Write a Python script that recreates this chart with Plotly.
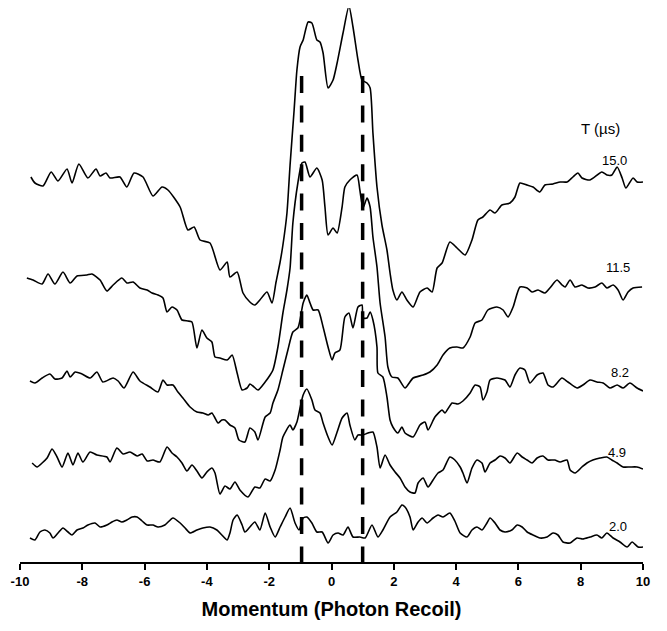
import plotly.graph_objects as go

# Momentum (photon recoil) vs. intensity (arbitrary units, curves offset vertically)
curve_15_0 = [
    (-9.65, 38.5), (-9.52, 37.9), (-9.26, 37.6), (-9.00, 39.0), (-8.78, 38.1), (-8.49, 39.3),
    (-8.33, 37.9), (-8.11, 39.8), (-7.82, 38.4), (-7.56, 39.3), (-7.43, 38.6), (-7.24, 38.9),
    (-7.11, 38.4), (-6.79, 38.5), (-6.57, 37.5), (-6.34, 38.9), (-6.05, 38.5), (-5.73, 36.6),
    (-5.44, 37.5), (-5.25, 37.2), (-4.86, 35.5), (-4.61, 33.2), (-4.41, 33.5), (-4.22, 32.2),
    (-3.90, 31.9), (-3.58, 29.2), (-3.35, 30.0), (-3.26, 28.5), (-3.03, 29.0), (-2.84, 26.9),
    (-2.62, 26.0), (-2.46, 25.7), (-2.30, 26.2), (-2.07, 27.0), (-1.91, 25.9), (-1.78, 28.0),
    (-1.65, 30.0), (-1.56, 31.7), (-1.43, 34.9), (-1.33, 39.7), (-1.20, 45.2), (-1.11, 49.2),
    (-1.01, 51.5), (-0.91, 52.2), (-0.75, 54.0), (-0.63, 53.9), (-0.47, 52.2), (-0.37, 52.0),
    (-0.27, 50.9), (-0.11, 47.4), (0.05, 48.2), (0.18, 49.9), (0.37, 52.9), (0.56, 55.6),
    (0.69, 53.5), (0.85, 50.2), (0.98, 48.2), (1.14, 47.9), (1.24, 47.4), (1.33, 42.9),
    (1.46, 37.5), (1.62, 33.7), (1.78, 31.2), (1.88, 28.9), (1.97, 27.2), (2.10, 26.2),
    (2.26, 27.0), (2.42, 26.2), (2.62, 25.5), (2.84, 27.0), (3.07, 27.4), (3.23, 27.0),
    (3.39, 29.4), (3.55, 29.9), (3.80, 32.0), (4.03, 31.4), (4.29, 30.7), (4.51, 32.2),
    (4.70, 34.2), (4.86, 34.5), (5.09, 35.2), (5.25, 34.9), (5.47, 35.7), (5.73, 35.9),
    (5.89, 36.5), (6.05, 37.9), (6.28, 37.7), (6.47, 37.5), (6.69, 37.0), (6.85, 37.7),
    (7.11, 37.8), (7.34, 38.0), (7.56, 38.0), (7.75, 38.5), (7.91, 38.9), (8.04, 38.4),
    (8.30, 38.2), (8.68, 39.0), (8.84, 38.7), (9.00, 38.7), (9.17, 39.5), (9.33, 38.4),
    (9.45, 37.4), (9.68, 38.4), (9.81, 38.0), (10.0, 38.0),
]

curve_11_5 = [
    (-9.78, 28.4), (-9.58, 28.2), (-9.29, 27.8), (-9.10, 28.8), (-8.88, 27.8), (-8.62, 29.0),
    (-8.39, 27.9), (-8.17, 28.6), (-7.85, 28.7), (-7.69, 28.8), (-7.43, 28.2), (-7.21, 27.1),
    (-7.01, 27.7), (-6.73, 28.4), (-6.57, 27.9), (-6.37, 28.0), (-6.15, 27.4), (-5.92, 27.2),
    (-5.76, 26.9), (-5.57, 26.7), (-5.41, 26.4), (-5.28, 25.0), (-5.12, 25.5), (-4.96, 25.2),
    (-4.80, 24.2), (-4.61, 24.1), (-4.48, 24.0), (-4.32, 21.4), (-4.16, 23.2), (-4.00, 22.4),
    (-3.84, 22.0), (-3.74, 20.5), (-3.58, 20.4), (-3.35, 20.2), (-3.19, 20.7), (-3.03, 18.9),
    (-2.87, 17.2), (-2.71, 17.4), (-2.62, 17.8), (-2.52, 17.6), (-2.36, 17.2), (-2.13, 18.0),
    (-1.97, 18.7), (-1.88, 19.2), (-1.72, 21.5), (-1.56, 24.9), (-1.43, 27.2), (-1.33, 29.4),
    (-1.24, 33.9), (-1.08, 37.9), (-0.95, 39.9), (-0.85, 40.0), (-0.69, 38.5), (-0.47, 39.4),
    (-0.30, 38.2), (-0.21, 35.5), (-0.11, 32.7), (0.05, 33.4), (0.18, 32.9), (0.34, 35.5),
    (0.43, 37.5), (0.59, 38.2), (0.82, 38.7), (0.91, 37.2), (1.01, 35.4), (1.14, 36.4),
    (1.24, 35.5), (1.33, 32.5), (1.46, 29.5), (1.56, 25.9), (1.72, 22.5), (1.81, 19.5),
    (1.94, 18.5), (2.13, 18.4), (2.36, 17.4), (2.62, 18.4), (2.94, 18.7), (3.16, 19.0),
    (3.39, 19.7), (3.58, 20.7), (3.80, 21.4), (4.03, 21.5), (4.22, 21.4), (4.45, 22.5),
    (4.61, 23.9), (4.83, 24.2), (5.02, 25.2), (5.31, 25.5), (5.51, 25.2), (5.67, 24.5),
    (5.83, 25.5), (6.05, 27.5), (6.28, 27.4), (6.44, 27.0), (6.63, 27.2), (6.85, 26.9),
    (7.01, 27.4), (7.24, 28.2), (7.40, 27.7), (7.50, 27.5), (7.66, 28.2), (7.82, 27.5),
    (8.04, 27.7), (8.23, 27.4), (8.46, 27.5), (8.68, 27.9), (8.84, 27.4), (9.04, 27.7),
    (9.20, 27.2), (9.36, 26.2), (9.52, 27.0), (9.68, 27.4), (9.97, 27.5),
]

curve_8_2 = [
    (-9.68, 18.1), (-9.52, 17.9), (-9.29, 18.4), (-9.04, 18.8), (-8.88, 18.3), (-8.65, 18.4),
    (-8.49, 19.1), (-8.39, 18.5), (-8.23, 19.0), (-8.01, 18.8), (-7.75, 18.4), (-7.53, 19.0),
    (-7.34, 18.0), (-7.01, 18.4), (-6.85, 18.1), (-6.66, 17.4), (-6.37, 19.0), (-6.15, 18.1),
    (-5.83, 17.5), (-5.57, 17.0), (-5.41, 18.2), (-5.28, 17.7), (-5.09, 17.7), (-4.93, 17.0),
    (-4.77, 16.4), (-4.54, 15.5), (-4.32, 15.0), (-4.13, 14.9), (-3.96, 14.7), (-3.84, 14.9),
    (-3.74, 14.4), (-3.64, 13.9), (-3.52, 14.2), (-3.42, 14.2), (-3.26, 13.7), (-3.10, 13.4),
    (-2.97, 12.2), (-2.78, 12.0), (-2.62, 13.4), (-2.46, 13.0), (-2.36, 12.2), (-2.13, 14.5),
    (-1.97, 14.9), (-1.88, 15.9), (-1.72, 17.2), (-1.56, 19.2), (-1.40, 21.2), (-1.24, 23.0),
    (-1.08, 23.4), (-1.01, 24.2), (-0.91, 25.9), (-0.79, 26.7), (-0.69, 25.9), (-0.59, 25.2),
    (-0.43, 25.2), (-0.27, 23.5), (-0.11, 21.5), (0.02, 20.2), (0.11, 20.9), (0.27, 21.2),
    (0.43, 24.5), (0.56, 24.9), (0.69, 23.4), (0.85, 25.5), (0.98, 25.7), (1.01, 24.4),
    (1.14, 24.4), (1.24, 25.0), (1.33, 24.2), (1.46, 21.5), (1.49, 18.9), (1.65, 18.5),
    (1.78, 16.5), (1.88, 14.2), (1.97, 13.5), (2.13, 12.9), (2.26, 13.5), (2.36, 12.9),
    (2.62, 12.5), (2.84, 13.7), (3.00, 14.0), (3.10, 13.2), (3.32, 14.5), (3.55, 15.2),
    (3.64, 14.9), (3.87, 15.9), (4.06, 15.8), (4.22, 16.1), (4.45, 16.9), (4.61, 17.7),
    (4.77, 17.5), (4.86, 16.2), (4.99, 17.0), (5.09, 18.2), (5.31, 18.4), (5.57, 18.2),
    (5.73, 17.5), (5.89, 18.7), (6.05, 19.4), (6.21, 19.2), (6.37, 17.9), (6.60, 18.7),
    (6.79, 18.9), (6.95, 17.7), (7.11, 17.5), (7.40, 18.4), (7.59, 18.0), (7.88, 17.4),
    (8.07, 17.7), (8.30, 18.2), (8.52, 18.0), (8.72, 17.9), (8.94, 17.4), (9.17, 17.7),
    (9.36, 17.4), (9.58, 17.9), (9.81, 17.4), (10.0, 17.1),
]

curve_4_9 = [
    (-9.61, 9.9), (-9.45, 9.5), (-9.29, 9.9), (-9.13, 10.4), (-8.97, 11.3), (-8.81, 10.5),
    (-8.65, 9.5), (-8.46, 10.9), (-8.30, 9.7), (-8.14, 10.9), (-7.98, 10.0), (-7.75, 11.0),
    (-7.53, 10.7), (-7.21, 10.5), (-7.11, 10.0), (-6.89, 11.4), (-6.69, 10.8), (-6.47, 11.0),
    (-6.24, 10.6), (-6.08, 10.8), (-5.92, 10.1), (-5.73, 10.2), (-5.51, 10.0), (-5.28, 11.5),
    (-5.12, 10.9), (-4.96, 10.5), (-4.80, 9.9), (-4.64, 9.1), (-4.48, 9.7), (-4.32, 9.1),
    (-4.16, 8.4), (-4.00, 9.0), (-3.84, 9.4), (-3.74, 8.9), (-3.58, 6.8), (-3.42, 7.6),
    (-3.26, 7.3), (-3.10, 8.0), (-2.94, 7.2), (-2.68, 6.5), (-2.46, 7.5), (-2.30, 7.4),
    (-2.13, 8.3), (-1.97, 8.1), (-1.81, 9.2), (-1.65, 11.2), (-1.56, 12.5), (-1.33, 13.7),
    (-1.24, 13.2), (-1.11, 14.0), (-1.01, 15.4), (-0.91, 16.7), (-0.79, 17.3), (-0.63, 16.2),
    (-0.53, 15.2), (-0.37, 14.9), (-0.27, 13.9), (-0.11, 12.5), (0.02, 11.7), (0.18, 13.0),
    (0.34, 14.4), (0.50, 14.9), (0.59, 13.7), (0.75, 12.2), (0.85, 12.7), (1.01, 12.7),
    (1.17, 12.9), (1.33, 13.0), (1.46, 11.5), (1.56, 9.4), (1.72, 10.7), (1.88, 9.7),
    (2.04, 9.0), (2.20, 8.4), (2.36, 7.5), (2.52, 7.0), (2.68, 6.9), (2.78, 7.9),
    (2.94, 8.4), (3.10, 7.5), (3.26, 8.2), (3.42, 8.9), (3.58, 9.2), (3.80, 10.5),
    (3.96, 10.2), (4.13, 9.5), (4.22, 8.9), (4.35, 7.9), (4.51, 9.4), (4.67, 10.2),
    (4.83, 9.9), (4.93, 9.0), (5.09, 9.9), (5.25, 10.2), (5.41, 10.6), (5.57, 10.4),
    (5.73, 9.9), (5.96, 10.9), (6.12, 10.5), (6.28, 10.2), (6.44, 9.9), (6.60, 10.4),
    (6.79, 10.6), (6.95, 10.2), (7.17, 10.2), (7.34, 10.0), (7.56, 10.2), (7.66, 9.2),
    (7.82, 8.9), (8.04, 9.5), (8.20, 9.9), (8.39, 10.2), (8.62, 10.4), (8.84, 10.5),
    (9.00, 10.2), (9.17, 9.9), (9.36, 9.5), (9.58, 9.5), (9.81, 9.5), (10.0, 9.3),
]

curve_2_0 = [
    (-9.68, 2.4), (-9.52, 2.2), (-9.36, 3.0), (-9.20, 3.2), (-9.04, 2.9), (-8.94, 2.4),
    (-8.78, 2.9), (-8.62, 3.4), (-8.46, 3.0), (-8.33, 2.7), (-8.17, 3.2), (-7.98, 3.4),
    (-7.82, 3.7), (-7.59, 3.9), (-7.43, 3.5), (-7.21, 3.7), (-7.05, 4.0), (-6.89, 4.2),
    (-6.73, 4.0), (-6.57, 4.2), (-6.40, 4.5), (-6.24, 4.5), (-6.08, 4.1), (-5.92, 3.7),
    (-5.73, 3.7), (-5.57, 3.5), (-5.35, 3.7), (-5.09, 4.4), (-4.86, 3.9), (-4.70, 3.4),
    (-4.54, 2.9), (-4.32, 3.2), (-4.13, 3.4), (-3.90, 3.5), (-3.68, 3.2), (-3.52, 2.7),
    (-3.35, 2.2), (-3.26, 2.9), (-3.16, 4.2), (-3.03, 4.7), (-2.87, 3.7), (-2.78, 3.0),
    (-2.62, 3.5), (-2.46, 4.0), (-2.30, 3.2), (-2.13, 4.9), (-1.97, 3.5), (-1.81, 2.5),
    (-1.65, 3.5), (-1.49, 4.5), (-1.33, 5.4), (-1.17, 3.9), (-1.04, 3.2), (-0.91, 4.4),
    (-0.79, 4.5), (-0.63, 3.9), (-0.47, 3.0), (-0.30, 3.0), (-0.11, 1.9), (0.05, 2.7),
    (0.21, 2.9), (0.37, 2.7), (0.53, 3.5), (0.69, 2.5), (0.91, 2.5), (1.08, 2.4),
    (1.30, 3.7), (1.49, 2.5), (1.65, 3.2), (1.88, 4.5), (2.10, 5.0), (2.26, 5.7),
    (2.36, 5.5), (2.52, 4.5), (2.62, 3.2), (2.78, 4.0), (2.91, 4.4), (3.07, 3.9),
    (3.26, 4.4), (3.42, 4.7), (3.58, 4.5), (3.80, 4.9), (3.96, 4.1), (4.13, 2.9),
    (4.35, 2.5), (4.51, 3.2), (4.67, 3.5), (4.83, 3.2), (4.99, 3.9), (5.09, 4.4),
    (5.25, 3.9), (5.41, 3.2), (5.57, 3.0), (5.79, 3.2), (5.96, 3.7), (6.12, 3.5),
    (6.28, 3.0), (6.47, 2.7), (6.69, 2.4), (6.92, 2.5), (7.11, 2.9), (7.27, 2.7),
    (7.43, 2.0), (7.66, 1.9), (7.88, 2.4), (8.07, 2.3), (8.30, 2.5), (8.52, 2.7),
    (8.68, 2.4), (8.84, 2.9), (9.04, 2.4), (9.26, 2.0), (9.49, 1.5), (9.65, 2.0),
    (9.84, 1.5), (10.0, 1.5),
]

curves = [curve_15_0, curve_11_5, curve_8_2, curve_4_9, curve_2_0]
temps = ["15.0", "11.5", "8.2", "4.9", "2.0"]
recoil_marks = [-0.96, 1.00]
recoil_mark_top = 48.6
xticks = [-10, -8, -6, -4, -2, 0, 2, 4, 6, 8, 10]

# label placement (layout)
label_x = [9.10, 9.20, 9.26, 9.17, 9.20]
label_y = [40.2, 29.5, 19.0, 11.0, 3.6]
header_pos = (8.62, 43.4)

FONT = "Liberation Sans, Arial, Helvetica, sans-serif"

fig = go.Figure()
for c in curves:
    xs = [p[0] for p in c]
    ys = [p[1] for p in c]
    fig.add_trace(go.Scatter(x=xs, y=ys, mode="lines",
                             line=dict(color="black", width=1.6, shape="spline", smoothing=0.6),
                             hoverinfo="skip", showlegend=False))

for xv in recoil_marks:
    fig.add_trace(go.Scatter(x=[xv, xv], y=[recoil_mark_top, 0], mode="lines",
                             line=dict(color="black", width=3.5, dash="17px,12.4px"),
                             hoverinfo="skip", showlegend=False))

annotations = [dict(x=header_pos[0], y=header_pos[1], text="T (µs)", showarrow=False,
                    font=dict(family=FONT, size=15, color="black"),
                    xanchor="center", yanchor="middle")]
for t, lx, ly in zip(temps, label_x, label_y):
    annotations.append(dict(x=lx, y=ly, text=t, showarrow=False,
                            font=dict(family=FONT, size=13, color="black"),
                            xanchor="center", yanchor="middle"))

fig.update_layout(
    width=667, height=631, autosize=False,
    margin=dict(l=12, r=32, t=0, b=77),
    paper_bgcolor="white", plot_bgcolor="white",
    showlegend=False,
    annotations=annotations,
    xaxis=dict(
        range=[-10, 10], tickvals=xticks, ticktext=[str(v) for v in xticks],
        showline=True, linecolor="black", linewidth=2,
        ticks="outside", ticklen=6, tickwidth=2, tickcolor="black",
        showgrid=False, zeroline=False,
        tickfont=dict(family=FONT, size=13, color="black", weight="bold"),
        title=dict(text="Momentum (Photon Recoil)", standoff=14,
                   font=dict(family=FONT, size=20, color="black", weight="bold")),
    ),
    yaxis=dict(range=[0, 55.4], visible=False, showgrid=False, zeroline=False),
)

fig.write_html("out.html")
